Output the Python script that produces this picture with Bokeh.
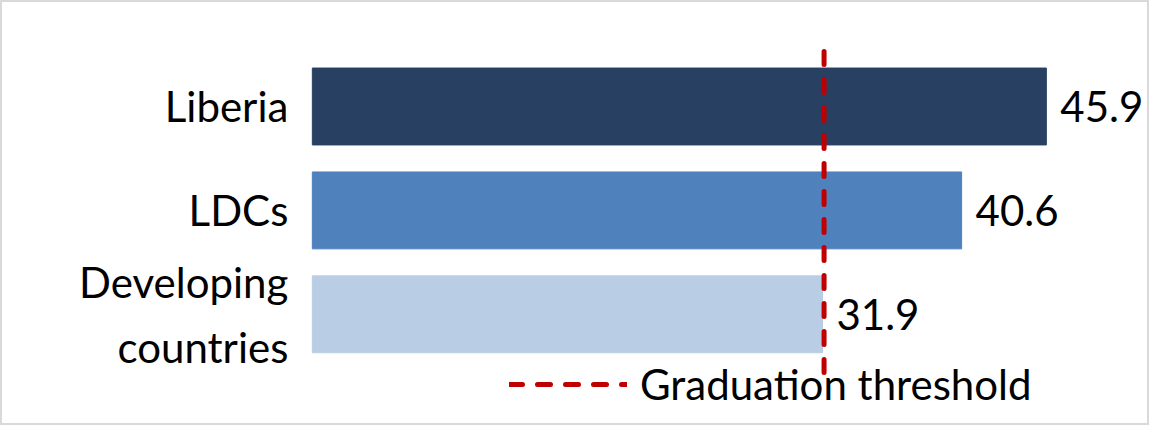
from bokeh.plotting import figure
from bokeh.models import ColumnDataSource, Range1d, Legend, LegendItem
from bokeh.core.properties import value
from bokeh.embed import file_html
from bokeh.resources import INLINE

# data, bottom to top
categories = ["Developing\ncountries", "LDCs", "Liberia"]
values = [31.9, 40.6, 45.9]
colors = ["#B9CDE5", "#4F81BD", "#284162"]
threshold = 32.0
legend_label = "Graduation threshold"

font = value("Lato")
fsize = "42px"

ypos = list(range(len(categories)))
src = ColumnDataSource(dict(y=ypos, v=values, cat=categories, color=colors,
                            lbl=["%.1f" % x for x in values]))

p = figure(width=1149, height=425, output_backend="svg", toolbar_location=None,
           x_range=Range1d(-19.5, 52.35), y_range=Range1d(-1.07, 3.02),
           x_axis_location=None, y_axis_location=None, min_border=0)
p.grid.visible = False
p.outline_line_color = "#d9d9d9"
p.outline_line_width = 3

p.hbar(y="y", left=0, right="v", height=0.74, color="color", source=src)

# value labels
p.text(x="v", y="y", text="lbl", source=src, x_offset=14,
       text_baseline="middle", text_align="left",
       text_font=font, text_font_size=fsize, text_color="black")

# category labels
p.text(x=0, y="y", text="cat", source=src, x_offset=-24,
       text_baseline="middle", text_align="right", text_line_height=1.3,
       text_font=font, text_font_size=fsize, text_color="black")

# threshold line
thr = p.segment(x0=threshold, x1=threshold, y0=-0.56, y1=len(categories) - 0.44,
                line_color="#C00000", line_width=5, line_dash="13 15",
                line_cap="round")

legend = Legend(items=[LegendItem(label=legend_label, renderers=[thr])],
                location=(509, 16), glyph_width=118, glyph_height=40,
                label_height=40, label_standoff=13, padding=0, margin=0,
                border_line_color=None, background_fill_alpha=0,
                label_text_font="Lato", label_text_font_size=fsize,
                label_text_color="black")
p.add_layout(legend)

open("out.html", "w").write(file_html(p, INLINE))
